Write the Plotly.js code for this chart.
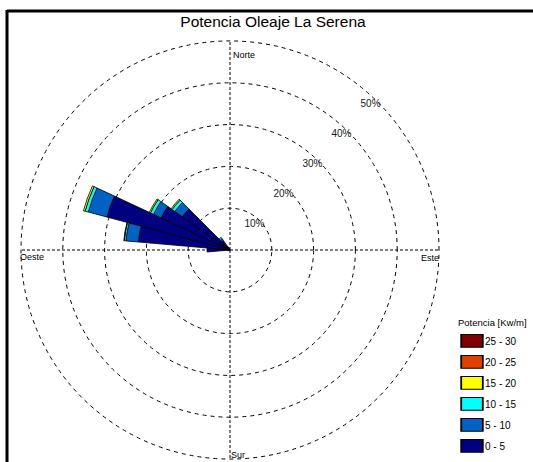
<!DOCTYPE html>
<html>
<head>
<meta charset="utf-8">
<script src="https://cdn.plot.ly/plotly-3.0.1.min.js"></script>
<style>
  html, body { margin: 0; padding: 0; background: #ffffff; }
  #chart { width: 533px; height: 462px; }
</style>
</head>
<body>
<div id="chart"></div>
<script>
// ---- data ----
const directions = [260, 270, 280, 290, 300, 310, 320, 330];          // degrees (compass)
const bins = ['0 - 5', '5 - 10', '10 - 15', '15 - 20', '20 - 25', '25 - 30'];
const p0_5   = [0.5, 5.5, 22.0, 30.5, 18.2, 13.9, 2.8, 0.8];           // % of time
const p5_10  = [0,   0,    3.0,  4.6,  2.0,  2.2, 0.5, 0];
const p10_15 = [0,   0,    0.4,  0.8,  0.8,  0.8, 0.4, 0];
const p15_20 = [0,   0,    0.1,  0.4,  0.3,  0.3, 0,   0];
const p20_25 = [0,   0,    0,    0,    0,    0,   0,   0];
const p25_30 = [0,   0,    0,    0,    0,    0,   0,   0];
const binColors = ['#000080', '#0062c4', '#00ffff', '#ffff00', '#e04000', '#800000'];
const radialTicks = [10, 20, 30, 40, 50];
const radialTickText = ['10%', '20%', '30%', '40%', '50%'];
const compassLabels = ['Norte', 'Este', 'Sur', 'Oeste'];
const chartTitle = 'Potencia Oleaje La Serena';
const legendTitle = 'Potencia [Kw/m]';

const series = [p0_5, p5_10, p10_15, p15_20, p20_25, p25_30];

const W = 533, H = 462;
const px = x => x / W;
const py = y => 1 - y / H;

const traces = series.map((vals, i) => ({
  type: 'barpolar',
  name: bins[i],
  r: vals,
  theta: directions,
  width: directions.map(() => 10),
  marker: { color: binColors[i], line: { color: '#000000', width: 0.8 } },
  legendgroup: 'g' + i,
  legendrank: 100 - i,
  hoverinfo: 'none'
}));

// radial tick labels, drawn just inside each ring along the NE diagonal
traces.push({
  type: 'scatterpolar',
  mode: 'text',
  r: radialTicks.map(t => t - 1.6),
  theta: radialTicks.map(() => 44),
  text: radialTickText,
  textposition: 'middle center',
  textfont: { family: 'Liberation Sans, Arial, sans-serif', size: 10, color: '#1a1a1a' },
  showlegend: false,
  hoverinfo: 'none',
  cliponaxis: false
});

// compass labels placed inside the outer ring
const labelPos = [
  { x: 231, y: 55, xa: 'left' },
  { x: 441, y: 258, xa: 'right' },
  { x: 229, y: 455, xa: 'left' },
  { x: 18, y: 257, xa: 'left' }
];
const annotations = compassLabels.map((t, i) => ({
  text: t, xref: 'paper', yref: 'paper',
  x: px(labelPos[i].x), y: py(labelPos[i].y),
  xanchor: labelPos[i].xa, yanchor: 'middle', showarrow: false,
  font: { family: 'Liberation Sans, Arial, sans-serif', size: 9, color: '#000000' }
}));

const layout = {
  width: W, height: H,
  margin: { l: 0, r: 0, t: 0, b: 0, autoexpand: false },
  paper_bgcolor: '#ffffff',
  font: { family: 'Liberation Sans, Arial, sans-serif', color: '#000000' },
  title: {
    text: chartTitle,
    x: px(273), y: py(22), xref: 'paper', yref: 'paper',
    xanchor: 'center', yanchor: 'middle',
    font: { family: 'Liberation Sans, Arial, sans-serif', size: 15.5, color: '#000000' }
  },
  showlegend: true,
  legend: {
    x: px(456), y: py(314), xanchor: 'left', yanchor: 'top',
    tracegroupgap: 2,
    title: { text: legendTitle, font: { size: 9.5, color: '#000000' } },
    font: { size: 10, color: '#000000' },
    bgcolor: 'rgba(0,0,0,0)'
  },
  polar: {
    domain: { x: [px(20), px(440)], y: [py(459), py(41)] },
    bgcolor: '#ffffff',
    barmode: 'stack',
    radialaxis: {
      range: [0, 50],
      tickmode: 'array',
      tickvals: radialTicks,
      showticklabels: false,
      angle: 45,
      showline: false,
      ticks: '',
      gridcolor: '#000000',
      gridwidth: 1,
      griddash: '4px,4px'
    },
    angularaxis: {
      direction: 'clockwise',
      rotation: 90,
      tickvals: [0, 90, 180, 270],
      showticklabels: false,
      ticks: '',
      showline: true,
      linecolor: '#000000',
      linewidth: 1,
      gridcolor: '#000000',
      gridwidth: 1,
      griddash: '3px,2px'
    }
  },
  annotations: annotations,
  shapes: [
    { type: 'line', xref: 'paper', yref: 'paper', x0: px(7), x1: 1.05, y0: py(11), y1: py(11),
      line: { color: '#000000', width: 3 } },
    { type: 'line', xref: 'paper', yref: 'paper', x0: px(7), x1: px(7), y0: py(10), y1: -0.05,
      line: { color: '#000000', width: 3 } }
  ]
};

Plotly.newPlot('chart', traces, layout, { displayModeBar: false, staticPlot: true }).then(gd => {
  // outer ring (50%) dashed like the other rings
  gd.querySelectorAll('.angular-line path, path.angularline').forEach(p => {
    p.style.strokeDasharray = '4px,4px';
  });
  // rectangular keys like the reference, text pulled closer to the keys
  gd.querySelectorAll('.legend .traces').forEach(g => {
    const pts = g.querySelector('.legendpoints');
    if (pts) pts.setAttribute('transform', 'translate(-4,0)');
    g.querySelectorAll('.legendpoints path').forEach(p => {
      const t = p.getAttribute('transform') || '';
      p.setAttribute('transform', t + ' scale(1.8,1.05)');
      p.style.strokeWidth = '1px';
      p.style.stroke = '#000000';
    });
    const txt = g.querySelector('text.legendtext');
    if (txt) {
      const x = parseFloat(txt.getAttribute('x') || '40');
      txt.setAttribute('x', x - 11);
    }
  });
});
</script>
</body>
</html>
